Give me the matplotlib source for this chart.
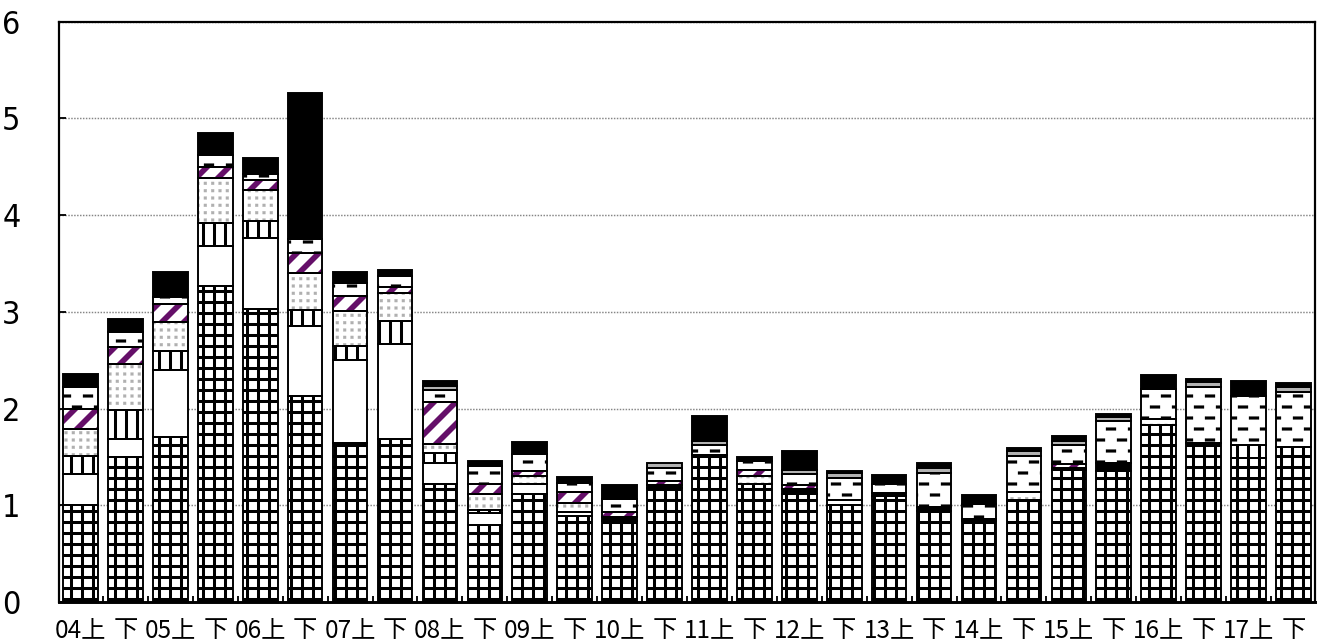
import numpy as np
import matplotlib
matplotlib.use("Agg")
import matplotlib as mpl
import matplotlib.pyplot as plt
import matplotlib.hatch as mhatch
from matplotlib.path import Path
from matplotlib import font_manager

# ---------------- data ----------------
labels = ["04上", "下", "05上", "下", "06上", "下", "07上", "下", "08上", "下",
          "09上", "下", "10上", "下", "11上", "下", "12上", "下", "13上", "下",
          "14上", "下", "15上", "下", "16上", "下", "17上", "下"]

grid_vals = [1.00, 1.495, 1.71, 3.27, 3.03, 2.13, 1.645, 1.685, 1.225, 0.80,
             1.12, 0.89, 0.84, 1.18, 1.52, 1.225, 1.12, 1.00, 1.10, 0.94,
             0.84, 1.04, 1.36, 1.35, 1.83, 1.64, 1.49, 1.60]
dark_vals = [0, 0, 0, 0, 0, 0, 0, 0, 0, 0,
             0, 0, 0.04, 0.03, 0, 0, 0.045, 0, 0.03, 0.045,
             0.02, 0.015, 0.03, 0.09, 0, 0, 0, 0]
white_vals = [0.32, 0.19, 0.69, 0.41, 0.73, 0.725, 0.855, 0.985, 0.21, 0.12,
              0.10, 0.04, 0, 0, 0, 0, 0, 0, 0, 0,
              0, 0, 0, 0, 0, 0, 0, 0]
vert_vals = [0.19, 0.30, 0.195, 0.235, 0.175, 0.16, 0.15, 0.24, 0.11, 0.03,
             0, 0, 0, 0, 0, 0, 0, 0, 0, 0,
             0, 0, 0, 0, 0, 0, 0.13, 0]
dot_vals = [0.28, 0.475, 0.295, 0.465, 0.33, 0.39, 0.355, 0.28, 0.085, 0.17,
            0.08, 0.09, 0, 0, 0, 0.075, 0, 0.05, 0, 0,
            0, 0.08, 0, 0, 0.065, 0, 0, 0]
purple_vals = [0.21, 0.18, 0.195, 0.115, 0.095, 0.20, 0.155, 0.065, 0.435, 0.095,
               0.05, 0.12, 0.05, 0.04, 0, 0.065, 0.04, 0, 0, 0,
               0, 0, 0.04, 0, 0, 0, 0, 0]
dash_vals = [0.22, 0.15, 0.065, 0.13, 0.07, 0.15, 0.14, 0.12, 0.125, 0.19,
             0.185, 0.095, 0.14, 0.14, 0.10, 0.095, 0.12, 0.23, 0.09, 0.345,
             0.15, 0.375, 0.19, 0.43, 0.305, 0.585, 0.515, 0.57]
gray_vals = [0, 0, 0, 0, 0, 0, 0, 0, 0.045, 0,
             0, 0, 0, 0.05, 0.04, 0, 0.035, 0.05, 0, 0.06,
             0, 0.05, 0.04, 0.045, 0, 0.05, 0, 0.05]
black_vals = [0.14, 0.14, 0.265, 0.22, 0.16, 1.51, 0.11, 0.06, 0.045, 0.055,
              0.115, 0.06, 0.14, 0, 0.265, 0.04, 0.205, 0.025, 0.095, 0.05,
              0.095, 0.03, 0.055, 0.025, 0.145, 0.03, 0.145, 0.04]

yticks = [0, 1, 2, 3, 4, 5, 6]

# ---------------- custom hatch patterns ----------------
def _stagger(rows, cols):
    pts = []
    for r in range(rows + 1):
        y = r / rows
        if r % 2 == 0:
            xs = np.arange(cols + 1) / cols
        else:
            xs = (np.arange(cols) + 0.5) / cols
        pts += [(xx, y) for xx in xs]
    return np.array(pts, dtype=float)


def _square_grid(n):
    g = np.arange(n + 1) / n
    xx, yy = np.meshgrid(g, g)
    return np.column_stack([xx.ravel(), yy.ravel()])


_RECT_CODES = np.array([Path.MOVETO, Path.LINETO, Path.LINETO,
                        Path.LINETO, Path.CLOSEPOLY])


class DashHatch(mhatch.HatchPatternBase):
    """short horizontal dashes, drawn for the '*' character"""
    def __init__(self, hatch, density):
        n = hatch.count('*')
        if n:
            self.centers = _stagger(6 * n, 3 * n)
            self.num_vertices = len(self.centers) * 5
        else:
            self.centers = None
            self.num_vertices = 0

    def set_vertices_and_codes(self, vertices, codes):
        hw, hh = 5.0 / 66, 1.4 / 66
        rect = np.array([[-hw, -hh], [hw, -hh], [hw, hh], [-hw, hh], [-hw, -hh]])
        vertices[:] = (self.centers[:, None, :] + rect[None]).reshape(-1, 2)
        codes[:] = np.tile(_RECT_CODES, len(self.centers))


class DotHatch(mhatch.HatchPatternBase):
    """small square dots, drawn for the 'o' character"""
    def __init__(self, hatch, density):
        n = hatch.count('o')
        if n:
            self.centers = _square_grid(9 * n)
            self.num_vertices = len(self.centers) * 5
        else:
            self.centers = None
            self.num_vertices = 0

    def set_vertices_and_codes(self, vertices, codes):
        h = 1.4 / 66
        rect = np.array([[-h, -h], [h, -h], [h, h], [-h, h], [-h, -h]])
        vertices[:] = (self.centers[:, None, :] + rect[None]).reshape(-1, 2)
        codes[:] = np.tile(_RECT_CODES, len(self.centers))


_new = []
for t in mhatch._hatch_types:
    if t is mhatch.Stars:
        _new.append(DashHatch)
    elif t is mhatch.SmallCircles:
        _new.append(DotHatch)
    else:
        _new.append(t)
mhatch._hatch_types[:] = _new

# ---------------- styles ----------------
STYLES = {
    "grid":   dict(face="white", hatch="+", hc="black", hlw=3.3),
    "dark":   dict(face="black"),
    "white":  dict(face="white"),
    "vert":   dict(face="white", hatch="|", hc="black", hlw=3.3),
    "dot":    dict(face="white", hatch="o", hc="#b0b0b0", hlw=0.3),
    "purple": dict(face="white", hatch="/", hc="#650f69", hlw=6.2),
    "dash":   dict(face="white", hatch="*", hc="black", hlw=0.3),
    "gray":   dict(face="#b3b3b3"),
    "black":  dict(face="black"),
}
layers = [("grid", grid_vals), ("dark", dark_vals), ("white", white_vals),
          ("vert", vert_vals), ("dot", dot_vals), ("purple", purple_vals),
          ("dash", dash_vals), ("gray", gray_vals), ("black", black_vals)]

names = {f.name for f in font_manager.fontManager.ttflist}
if "Liberation Sans Narrow" in names:
    ytick_font = dict(family="Liberation Sans Narrow")
else:
    ytick_font = dict(family="DejaVu Sans", stretch="condensed")

DPI = 66
fig = plt.figure(figsize=(1320 / DPI, 641 / DPI), dpi=DPI)
ax = fig.add_axes([59 / 1320, 39 / 641, 1256 / 1320, 580.3 / 641])

x = np.arange(len(labels))
BAR_W = 0.77
bottom = np.zeros(len(labels))
for name, vals in layers:
    v = np.asarray(vals, dtype=float)
    m = v > 0
    st = STYLES[name]
    hlw = st.get("hlw", 1.0)
    with mpl.rc_context({"hatch.linewidth": hlw}):
        bars = ax.bar(x[m], v[m], bottom=bottom[m], width=BAR_W,
                      facecolor=st["face"], edgecolor=st.get("hc", st["face"]),
                      linewidth=0, hatch=st.get("hatch"), zorder=2)
    for p in bars:
        if hasattr(p, "set_hatch_linewidth"):
            p.set_hatch_linewidth(hlw)
    ax.bar(x[m], v[m], bottom=bottom[m], width=BAR_W, facecolor="none",
           edgecolor="black", linewidth=2.1, zorder=3)
    bottom += v

ax.set_xlim(-0.48, len(labels) - 0.52)
ax.set_ylim(0, 6)
ax.set_axisbelow(True)
ax.yaxis.grid(True, color="#858585", linestyle=(0, (1, 1)), linewidth=1.6, zorder=0)

for s in ax.spines.values():
    s.set_linewidth(2.4)
    s.set_color("black")
ax.spines["bottom"].set_linewidth(3.2)

ax.set_yticks(yticks)
ax.set_yticklabels([str(t) for t in yticks], fontsize=35, **ytick_font)
ax.tick_params(axis="y", which="major", direction="in", length=7.5, width=2,
               pad=42, left=True, right=False)

ax.set_xticks(x)
ax.set_xticklabels(labels, fontsize=26.5, family=["Noto Sans CJK JP", "DejaVu Sans"])
ax.set_xticks(np.arange(len(labels) - 1) + 0.5, minor=True)
ax.tick_params(axis="x", which="major", length=0, pad=16)
ax.tick_params(axis="x", which="minor", direction="in", length=6.5, width=2,
               top=False, bottom=True)

fig.savefig("out.png", dpi=DPI)
